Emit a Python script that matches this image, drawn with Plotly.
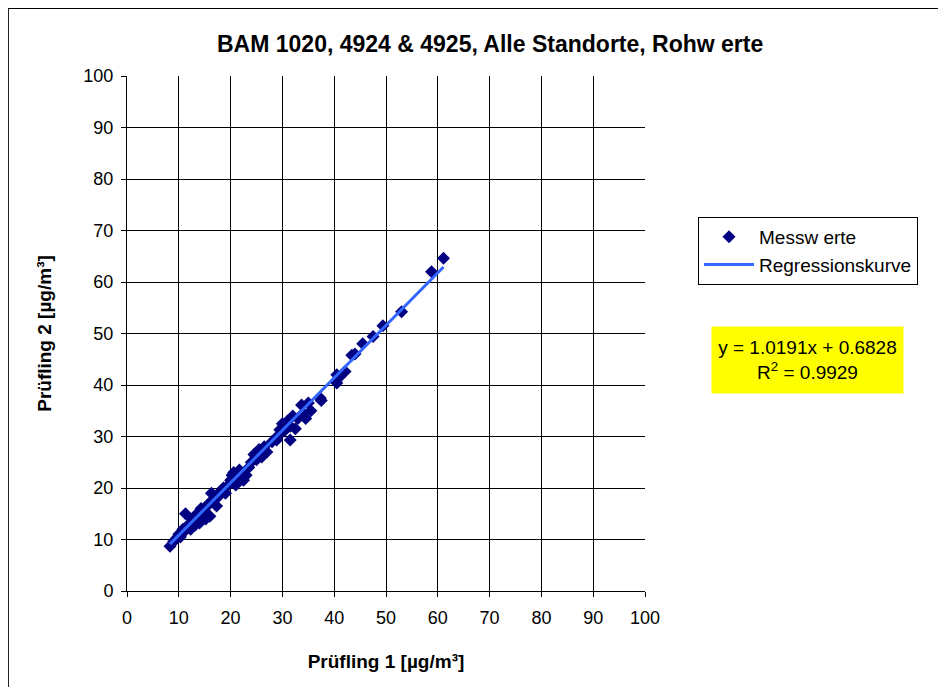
import plotly.graph_objects as go

pruefling1 = [8.3, 9.0, 9.5, 10.0, 10.3, 10.8, 11.0, 11.3, 11.6, 12.0, 12.3, 12.6, 13.0, 13.2,
              13.5, 13.8, 14.0, 14.3, 14.6, 15.0, 15.2, 15.5, 15.8, 16.0, 16.3, 16.6, 17.0,
              17.3, 17.8, 18.2, 18.6, 19.0, 19.5, 20.0, 20.3, 20.6, 21.0, 21.3, 21.7, 22.0,
              22.5, 23.0, 23.5, 24.0, 24.5, 25.0, 25.5, 26.0, 26.5, 27.0, 28.0, 28.9, 29.0,
              29.5, 30.0, 30.3, 31.5, 31.0, 31.5, 32.0, 32.5, 33.0, 33.7, 34.0, 34.5, 35.0,
              35.5, 37.3, 37.5, 40.5, 40.5, 41.0, 42.1, 43.4, 44.0, 45.5, 47.5, 49.4, 53.0,
              58.8, 61.1]
pruefling2 = [8.7, 9.6, 10.2, 11.0, 10.5, 12.0, 11.5, 15.0, 12.5, 13.0, 12.0, 14.0, 13.5, 12.8,
              15.0, 14.2, 13.2, 16.0, 15.0, 15.5, 14.0, 16.5, 17.0, 14.5, 19.0, 17.5, 18.0,
              16.5, 18.5, 19.5, 20.0, 19.0, 20.5, 21.5, 22.5, 23.0, 20.6, 22.0, 23.5, 22.0,
              21.5, 22.5, 24.0, 25.0, 26.5, 25.5, 27.5, 26.0, 28.0, 27.0, 29.0, 29.3, 30.0,
              31.3, 32.5, 31.0, 29.3, 33.0, 32.0, 34.0, 31.5, 33.5, 36.1, 34.5, 33.5, 36.5,
              35.0, 37.5, 37.0, 40.4, 42.0, 41.5, 42.6, 45.8, 46.0, 48.0, 49.4, 51.5, 54.2,
              62.0, 64.6]

# Regression line endpoints
reg_x = [8.3, 61.1]
reg_y = [9.1, 62.9]

x_ticks = [0, 10, 20, 30, 40, 50, 60, 70, 80, 90, 100]
y_ticks = [0, 10, 20, 30, 40, 50, 60, 70, 80, 90, 100]

title_text = "BAM 1020, 4924 & 4925, Alle Standorte, Rohw erte"
x_title = "Prüfling 1 [µg/m³]"
y_title = "Prüfling 2 [µg/m³]"
equation = "y = 1.0191x + 0.6828<br>R<sup>2</sup> = 0.9929"

FONT = "Liberation Sans, Arial, sans-serif"

fig = go.Figure()
fig.add_trace(go.Scatter(
    x=pruefling1, y=pruefling2, mode="markers", name="Messw erte",
    marker=dict(symbol="diamond", size=10, color="#000080", line=dict(width=0)),
))
fig.add_trace(go.Scatter(
    x=reg_x, y=reg_y, mode="lines", name="Regressionskurve",
    line=dict(color="#3366FF", width=3),
))

OFF = 8  # page body margin
W, H = 946 - OFF, 687 - OFF
L, R, T, B = 127 - OFF, 645 - OFF, 76 - OFF, 591 - OFF
pw, ph = R - L, B - T

def px(page_x):
    return (page_x - OFF - L) / pw

def py(page_y):
    return (B - (page_y - OFF)) / ph

fig.update_layout(
    width=W, height=H,
    margin=dict(l=L, r=W - R, t=T, b=H - B),
    paper_bgcolor="white", plot_bgcolor="white",
    font=dict(family=FONT, size=18, color="black"),
    showlegend=True,
    legend=dict(
        x=px(698), y=py(217), xanchor="left", yanchor="top",
        bordercolor="black", borderwidth=1, bgcolor="white",
        font=dict(family=FONT, size=19, color="black"),
        itemwidth=50, tracegroupgap=2,
    ),
    xaxis=dict(
        range=[0, 100], tickvals=x_ticks, ticks="outside", ticklen=5, tickcolor="black",
        showgrid=True, gridcolor="black", gridwidth=1, showline=True, linecolor="black",
        linewidth=1, zeroline=False, tickfont=dict(size=18), ticklabelstandoff=5,
        title=dict(text="<b>" + x_title + "</b>", font=dict(size=19), standoff=28),
    ),
    yaxis=dict(
        range=[0, 100], tickvals=y_ticks, ticks="outside", ticklen=5, tickcolor="black",
        showgrid=True, gridcolor="black", gridwidth=1, showline=True, linecolor="black",
        linewidth=1, zeroline=False, tickfont=dict(size=18), ticklabelstandoff=4,
        title=dict(text="<b>" + y_title + "</b>", font=dict(size=19), standoff=26),
    ),
    annotations=[
        dict(text="<b>" + title_text + "</b>", xref="paper", yref="paper",
             x=px(490), y=py(44), xanchor="center", yanchor="middle",
             showarrow=False, font=dict(size=23)),
        dict(text=equation, xref="paper", yref="paper",
             x=px(807.5), y=py(360), xanchor="center", yanchor="middle",
             showarrow=False, font=dict(size=19), align="center",
             bgcolor="#FFFF00", borderpad=4, width=183, height=58),
    ],
    shapes=[
        dict(type="line", xref="paper", yref="paper", x0=px(8), x1=px(8), y0=py(8), y1=py(700),
             line=dict(color="#222222", width=2)),
        dict(type="line", xref="paper", yref="paper", x0=px(8), x1=px(960), y0=py(8), y1=py(8),
             line=dict(color="black", width=2)),
    ],
)

fig.write_html("out.html")
